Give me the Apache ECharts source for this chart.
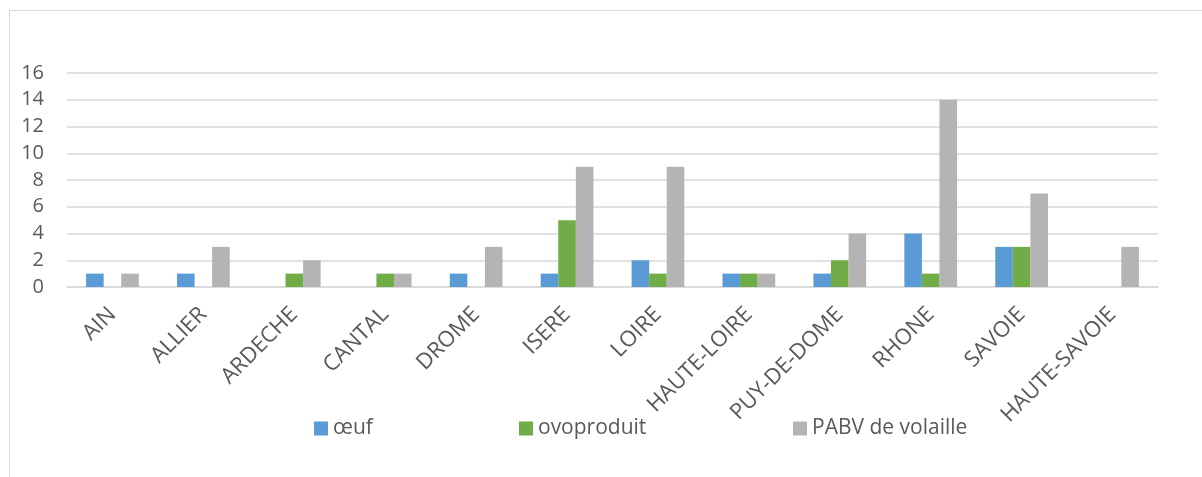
<!DOCTYPE html>
<html>
<head>
<meta charset="utf-8">
<script src="https://cdn.jsdelivr.net/npm/echarts@6/dist/echarts.min.js"></script>
<style>
  html, body { margin: 0; padding: 0; background: #fff; }
  #frame { position: absolute; left: 9px; top: 10px; right: -2px; bottom: -2px; border: 1.5px solid #d9d9d9; }
  #chart { position: absolute; left: 0; top: 0; width: 1202px; height: 477px; }
</style>
</head>
<body>
<div id="frame"></div>
<div id="chart"></div>
<script>
// Départements of Auvergne-Rhône-Alpes
const departements = ['AIN', 'ALLIER', 'ARDECHE', 'CANTAL', 'DROME', 'ISERE', 'LOIRE',
  'HAUTE-LOIRE', 'PUY-DE-DOME', 'RHONE', 'SAVOIE', 'HAUTE-SAVOIE'];
const oeuf       = [1, 1, 0, 0, 1, 1, 2, 1, 1, 4, 3, 0];
const ovoproduit = [0, 0, 1, 1, 0, 5, 1, 1, 2, 1, 3, 0];
const pabv       = [1, 3, 2, 1, 3, 9, 9, 1, 4, 14, 7, 3];
const seriesNames = ['œuf', 'ovoproduit', 'PABV de volaille'];
const colors = ['#5b9bd5', '#70ad47', '#b4b4b4'];

const font = '"Open Sans", sans-serif';
const textColor = '#595959';

const chart = echarts.init(document.getElementById('chart'));
const values = [oeuf, ovoproduit, pabv];
const legendLefts = [314, 519, 793];

chart.setOption({
  animation: false,
  grid: { left: 67, right: 44, top: 73, bottom: 190, containLabel: false },
  legend: seriesNames.map((name, i) => ({
    data: [name],
    left: legendLefts[i],
    top: 418,
    padding: 0,
    itemWidth: 14,
    itemHeight: 14,
    itemGap: 0,
    icon: 'rect',
    textStyle: { fontFamily: font, fontSize: 21, color: textColor, padding: [0, 0, 0, 0] }
  })),
  xAxis: {
    type: 'category',
    data: departements,
    axisLine: { lineStyle: { color: '#d9d9d9', width: 1.5 } },
    axisTick: { show: false },
    axisLabel: {
      rotate: 45,
      interval: 0,
      margin: 24,
      fontFamily: font,
      fontSize: 22,
      color: textColor
    }
  },
  yAxis: {
    type: 'value',
    min: 0,
    max: 16,
    interval: 2,
    axisLine: { show: false },
    axisTick: { show: false },
    splitLine: { lineStyle: { color: '#d9d9d9', width: 1.5 } },
    axisLabel: { margin: 23, fontFamily: font, fontSize: 20, color: textColor }
  },
  series: values.map((v, i) => ({
    name: seriesNames[i],
    type: 'bar',
    data: v,
    barGap: '0%',
    barCategoryGap: '42%',
    itemStyle: { color: colors[i] }
  }))
});
</script>
</body>
</html>
